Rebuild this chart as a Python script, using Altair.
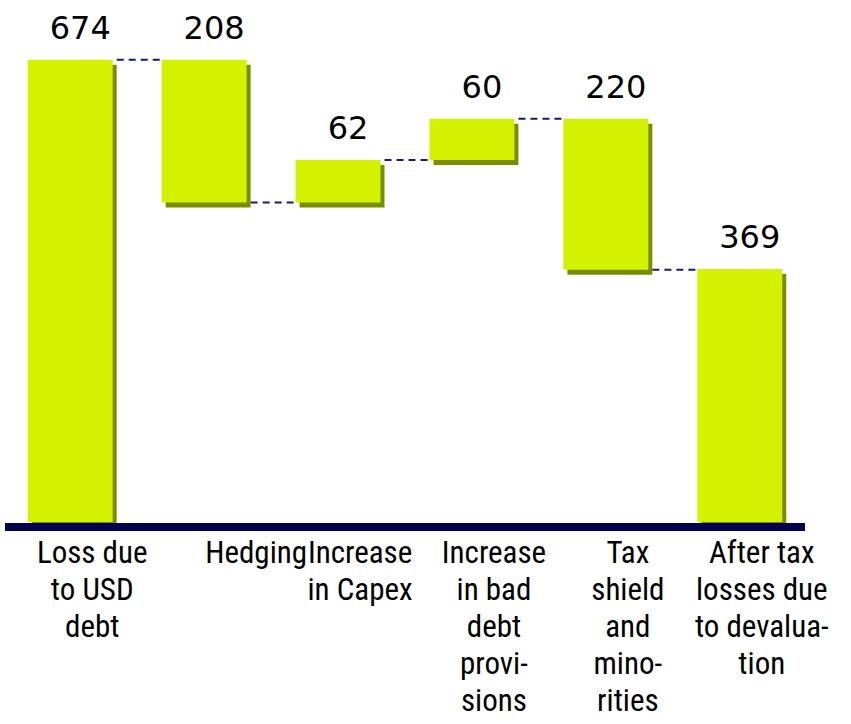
import altair as alt
import pandas as pd

categories = ["loss", "hedging", "capex", "baddebt", "tax", "after"]
labels = [
    "Loss due\nto USD\ndebt",
    "Hedging",
    "Increase\nin Capex",
    "Increase\nin bad\ndebt\nprovi-\nsions",
    "Tax\nshield\nand\nmino-\nrities",
    "After tax\nlosses due\nto devalua-\ntion",
]
amounts = [674, -208, 62, 60, -220, 369]
kinds = ["total", "delta", "delta", "delta", "delta", "total"]

rows = []
running = 0
for c, lab, a, k in zip(categories, labels, amounts, kinds):
    if k == "total":
        s, e = 0, a
    else:
        s, e = running, running + a
    running = e
    rows.append(dict(cat=c, label=lab, start=s, end=e, top=max(s, e), val=abs(a), zero=0))
df = pd.DataFrame(rows)

conn = pd.DataFrame([
    dict(cat=categories[i], nxt=categories[i + 1], level=rows[i]["end"])
    for i in range(len(categories) - 1)
])

W, H = 800, 480
xscale = alt.Scale(domain=categories, paddingInner=0.366, paddingOuter=0.17)
yscale = alt.Scale(domain=[0, 700])
X = alt.X("cat:N", scale=xscale, axis=None, sort=categories)
Y = alt.Y("end:Q", scale=yscale, axis=None)

shadow = alt.Chart(df).mark_bar(color="#7a8c00", xOffset=4, yOffset=5, y2Offset=5).encode(
    x=X, y=Y, y2="start:Q")
bars = alt.Chart(df).mark_bar(color="#d2f200").encode(x=X, y=Y, y2="start:Q")

half = 42.5
rules = alt.Chart(conn).mark_rule(color="#1a1a6e", strokeDash=[7, 5], strokeWidth=2,
                                  xOffset=half + 4, x2Offset=-half).encode(
    x=alt.X("cat:N", scale=xscale, axis=None, sort=categories),
    x2="nxt:N",
    y=alt.Y("level:Q", scale=yscale, axis=None),
)

values = alt.Chart(df).mark_text(font="DejaVu Sans", fontSize=32, dx=10, dy=-21,
                                 baseline="alphabetic", color="black").encode(
    x=X, y=alt.Y("top:Q", scale=yscale, axis=None), text="val:Q")

baseline = alt.Chart(df).mark_rule(color="#000050", strokeWidth=8, yOffset=5).encode(
    y=alt.Y("zero:Q", scale=yscale, axis=None), x=alt.value(0), x2=alt.value(W))

font = "Liberation Sans Narrow, Roboto Condensed, Liberation Sans"
cat_text = alt.Chart(df).transform_filter(alt.datum.cat != "hedging").mark_text(
    font=font, fontSize=31, fontWeight="normal", lineBreak="\n", lineHeight=37,
    baseline="top", dx=22, color="black").encode(x=X, y=alt.value(497), text="label:N")
hedge_text = alt.Chart(df).transform_filter(alt.datum.cat == "hedging").mark_text(
    font=font, fontSize=31, fontWeight="normal", lineBreak="\n", lineHeight=37,
    baseline="top", dx=52, color="black").encode(x=X, y=alt.value(497), text="label:N")

chart = alt.layer(shadow, bars, rules, baseline, values, cat_text, hedge_text).properties(
    width=W, height=H,
    autosize=alt.AutoSizeParams(type="none"),
    padding={"left": 5, "top": 42, "right": 46, "bottom": 202},
).configure_view(stroke=None)

chart.save("out.html", embed_options={"renderer": "svg", "actions": False})
